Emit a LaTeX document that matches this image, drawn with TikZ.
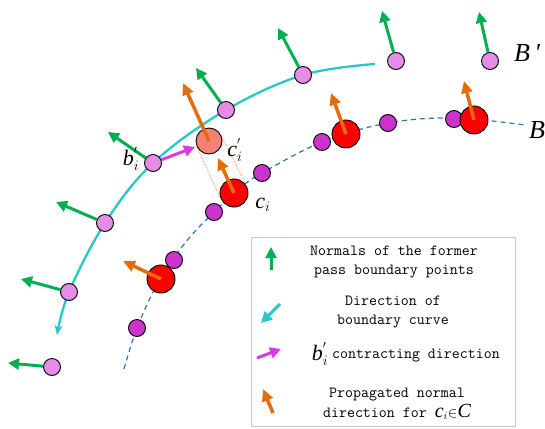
\documentclass[tikz,border=0pt]{standalone}
\usepackage{fontspec}
\setmainfont{Liberation Serif}
\usetikzlibrary{arrows.meta,calc}
\definecolor{nrmgreen}{RGB}{0,176,80}
\definecolor{curvecyan}{RGB}{40,200,200}
\definecolor{ptpink}{RGB}{230,140,230}
\definecolor{ptpurple}{RGB}{204,51,204}
\definecolor{propor}{RGB}{228,108,10}
\definecolor{salmonpt}{RGB}{245,128,118}
\definecolor{contrmag}{RGB}{214,60,224}
\definecolor{dashblue}{RGB}{46,117,182}

\begin{document}
\begin{tikzpicture}[x=1pt, y=-1pt,
    bpt/.style={draw, circle, fill=ptpink, minimum size=17pt, inner sep=0pt, line width=0.9pt},
    cpt/.style={draw, circle, fill=ptpurple, minimum size=17pt, inner sep=0pt, line width=0.9pt},
    rpt/.style={draw, circle, fill=red, minimum size=28pt, inner sep=0pt, line width=0.9pt},
    nrm/.style={nrmgreen, line width=3pt, -{Triangle[length=11pt,width=11pt]}},
    prop/.style={propor, line width=3.5pt, -{Triangle[length=12pt,width=11pt]}},
    contr/.style={contrmag, line width=3pt, -{Triangle[length=11pt,width=11pt]}},
    lbl/.style={font=\fontsize{22}{22}\selectfont\itshape, inner sep=0pt},
    legtxt/.style={font=\fontsize{15.5}{19.5}\selectfont\ttfamily, align=center, inner sep=0pt}]

    \useasboundingbox (0,0) rectangle (545,428);

    % boundary curve B' (former pass)
    \draw[curvecyan, line width=2.3pt, -{Stealth[length=10pt,width=8pt]}] plot[smooth, tension=0.6]
        coordinates {(375,64) (303,75) (226,110) (153,163) (105,223) (69,292) (57,335)};

    % contracted curve B
    \draw[dashblue, line width=1.2pt, dash pattern=on 5pt off 4pt] plot[smooth, tension=0.6]
        coordinates {(124,369) (137,328) (158,283) (185,243) (214,212) (240,188) (262,173) (322,142) (388,123) (454,118) (525,125)};

    % boundary points of B'
    \node[bpt] (p1) at (490,61) {};
    \node[bpt] (p2) at (396,61) {};
    \node[bpt] (p3) at (303,75) {};
    \node[bpt] (p4) at (226,110) {};
    \node[bpt] (p5) at (153,163) {};
    \node[bpt] (p6) at (105,223) {};
    \node[bpt] (p7) at (69,292) {};
    \node[bpt] (p8) at (52,367) {};

    % normals of B'
    \coordinate (g1) at (479,12);
    \coordinate (g2) at (382,11);
    \coordinate (g3) at (278,28);
    \coordinate (g4) at (196,68);
    \coordinate (g5) at (108,132);
    \coordinate (g6) at (56,202);
    \coordinate (g7) at (21,279);
    \coordinate (g8) at (8,363);
    \draw[nrm] (p1) -- (g1);
    \draw[nrm] (p2) -- (g2);
    \draw[nrm] (p3) -- (g3);
    \draw[nrm] (p4) -- (g4);
    \draw[nrm] (p5) -- (g5);
    \draw[nrm] (p6) -- (g6);
    \draw[nrm] (p7) -- (g7);
    \draw[nrm] (p8) -- (g8);

    % points on B
    \node[cpt] (q1) at (137,328) {};
    \node[cpt] (q2) at (174,260) {};
    \node[cpt] (q3) at (214,212) {};
    \node[cpt] (q4) at (262,173) {};
    \node[cpt] (q5) at (322,142) {};
    \node[cpt] (q6) at (388,123) {};
    \node[cpt] (q7) at (454,119) {};
    \node[rpt] (r1) at (161,279) {};
    \node[rpt] (r2) at (234,193) {};
    \node[rpt] (r3) at (346,134) {};
    \node[rpt] (r4) at (474,120) {};

    % c_i' and contracting direction
    \node[draw, circle, fill=salmonpt, minimum size=26pt, inner sep=0pt, line width=0.9pt] (cp) at (209,141) {};
    \draw[propor, densely dotted, line width=0.6pt] (cp.25.7) -- (r2.25.7) (cp.205.7) -- (r2.205.7);
    \coordinate (m1) at (195,147);
    \draw[contr] (p5) -- (m1);

    % propagated normals
    \coordinate (o1) at (123,261);
    \coordinate (o2) at (218,158);
    \coordinate (o3) at (331,93);
    \coordinate (o4) at (464,81);
    \coordinate (o5) at (183,83);
    \draw[prop] (r1.center) -- (o1);
    \draw[prop] (r2.center) -- (o2);
    \draw[prop] (r3.center) -- (o3);
    \draw[prop] (r4.center) -- (o4);
    \draw[prop] (cp.center) -- (o5);

    % labels
    \node[lbl] (lb) at (131,159) {b$_{i}^{'}$};
    \node[lbl] (lcp) at (235,150) {c$_{i}^{'}$};
    \node[lbl] (lc) at (263,205) {c$_{i}$};
    \node[lbl, font=\fontsize{26}{26}\selectfont\itshape] (lB1) at (527,53) {B\,\textquotesingle};
    \node[lbl, font=\fontsize{26}{26}\selectfont\itshape] (lB) at (537,130) {B};

    % legend
    \node[draw=black!22, line width=1pt, minimum width=264pt, minimum height=189pt, inner sep=0pt] (legend) at (383,332) {};
    \coordinate (l1s) at (271,270);
    \coordinate (l1e) at (271,247);
    \coordinate (l2s) at (280,304);
    \coordinate (l2e) at (261,323);
    \coordinate (l3s) at (257,358);
    \coordinate (l3e) at (281,349);
    \coordinate (l4s) at (273,413);
    \coordinate (l4e) at (263,389);
    \draw[nrm] (l1s) -- (l1e);
    \draw[curvecyan, line width=3pt, -{Triangle[length=11pt,width=11pt]}] (l2s) -- (l2e);
    \draw[contr] (l3s) -- (l3e);
    \draw[prop] (l4s) -- (l4e);
    \node[legtxt] (t1) at (394,262) {Normals of the former\\pass boundary points};
    \node[legtxt] (t2) at (393,312) {Direction of\\boundary curve};
    \node[lbl] (t3b) at (320,354) {b$_{i}^{'}$};
    \node[legtxt, anchor=west] (t3) at (332,356) {contracting direction};
    \node[legtxt] (t4) at (397,404) {Propagated normal\\direction for {\fontsize{20}{20}\selectfont\rmfamily\itshape c}$_{i}$$\in${\fontsize{20}{20}\selectfont\rmfamily\itshape C}};
\end{tikzpicture}
\end{document}
